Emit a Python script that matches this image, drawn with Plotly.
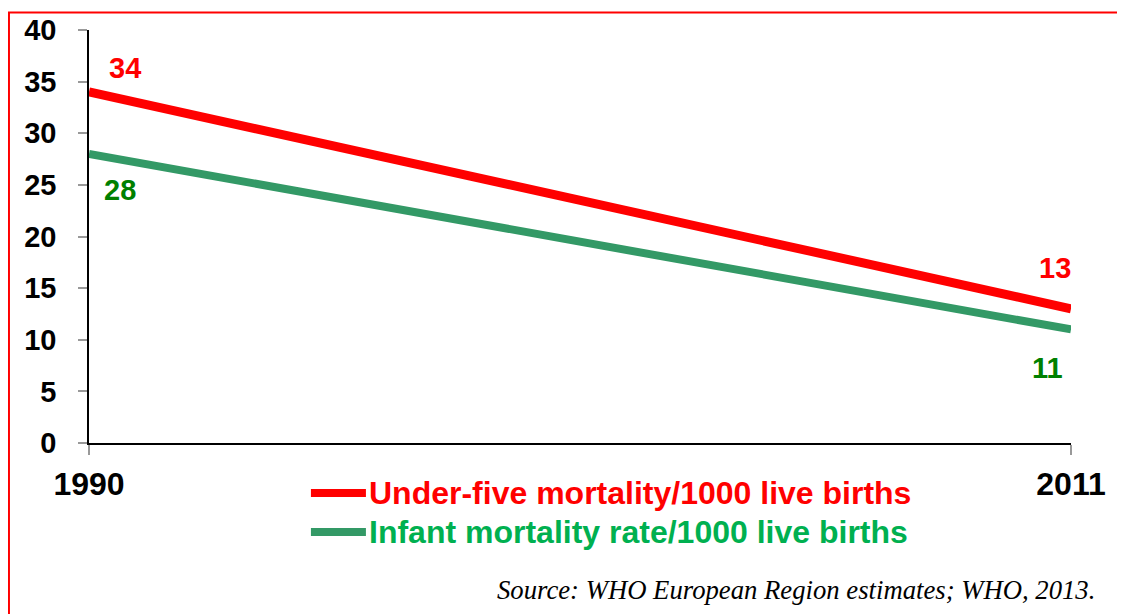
import plotly.graph_objects as go

years = [1990, 2011]
under_five = [34, 13]
infant = [28, 11]
series_names = ["Under-five mortality/1000 live births", "Infant mortality rate/1000 live births"]
y_ticks = [0, 5, 10, 15, 20, 25, 30, 35, 40]
source_text = "Source: WHO European Region estimates; WHO, 2013."

RED = "#FF0000"
GREEN_LINE = "#339966"
GREEN_LABEL = "#008000"
GREEN_LEGEND = "#00B050"
FONT = "Liberation Sans, Arial, sans-serif"

fig = go.Figure()
fig.add_trace(go.Scatter(x=years, y=under_five, mode="lines",
                         line=dict(color=RED, width=9), name=series_names[0],
                         showlegend=False))
fig.add_trace(go.Scatter(x=years, y=infant, mode="lines",
                         line=dict(color=GREEN_LINE, width=8), name=series_names[1],
                         showlegend=False))

annotations = []
# data labels
label_specs = [
    (years[0], under_five[0], RED, 36, 24),
    (years[1], under_five[1], RED, -16, 41),
    (years[0], infant[0], GREEN_LABEL, 31, -36),
    (years[1], infant[1], GREEN_LABEL, -24, -39),
]
for x, y, c, dx, dy in label_specs:
    annotations.append(dict(x=x, y=y, xref="x", yref="y", text=f"<b>{y}</b>",
                            showarrow=False, xshift=dx, yshift=dy,
                            font=dict(family=FONT, size=29, color=c)))

# custom legend
legend_rows = [(series_names[0], RED, RED, -0.121), (series_names[1], GREEN_LINE, GREEN_LEGEND, -0.2155)]
shapes = []
for name, lc, tc, py in legend_rows:
    shapes.append(dict(type="line", xref="paper", yref="paper", x0=0.226, x1=0.282,
                       y0=py, y1=py, line=dict(color=lc, width=8)))
    annotations.append(dict(x=0.2835, y=py, xref="paper", yref="paper", text=f"<b>{name}</b>",
                            showarrow=False, xanchor="left", yanchor="middle",
                            font=dict(family=FONT, size=32, color=tc)))

annotations.append(dict(x=1.0265, y=-0.356, xref="paper", yref="paper",
                        text=f"<i>{source_text}</i>", showarrow=False,
                        xanchor="right", yanchor="middle",
                        font=dict(family="Liberation Serif, Times New Roman, serif", size=26.7, color="#000000")))

# red frame
shapes.append(dict(type="rect", xref="paper", yref="paper", x0=-0.0815, x1=1.08,
                   y0=-0.45, y1=1.0424, line=dict(color=RED, width=2), layer="below"))

fig.update_layout(
    width=1117, height=606,
    margin=dict(l=81, r=54, t=22, b=171, autoexpand=False),
    paper_bgcolor="white", plot_bgcolor="white",
    shapes=shapes, annotations=annotations,
    showlegend=False,
    xaxis=dict(range=[years[0], years[1]], tickvals=years, ticktext=[f"<b>{y}</b>" for y in years],
               showgrid=False, zeroline=False, showline=True, linecolor="black", linewidth=1.5,
               ticks="outside", ticklen=10, tickcolor="#999999", tickwidth=1.5,
               ticklabelstandoff=2, automargin=False,
               tickfont=dict(family=FONT, size=32, color="black")),
    yaxis=dict(range=[0, 40], tickvals=y_ticks, ticktext=[f"<b>{v}</b>" for v in y_ticks],
               showgrid=False, zeroline=False, showline=True, linecolor="black", linewidth=1.5,
               ticks="outside", ticklen=9, tickcolor="#999999", tickwidth=1.5,
               ticklabelstandoff=16, automargin=False,
               tickfont=dict(family=FONT, size=29, color="black")),
)

fig.write_html("out.html")
